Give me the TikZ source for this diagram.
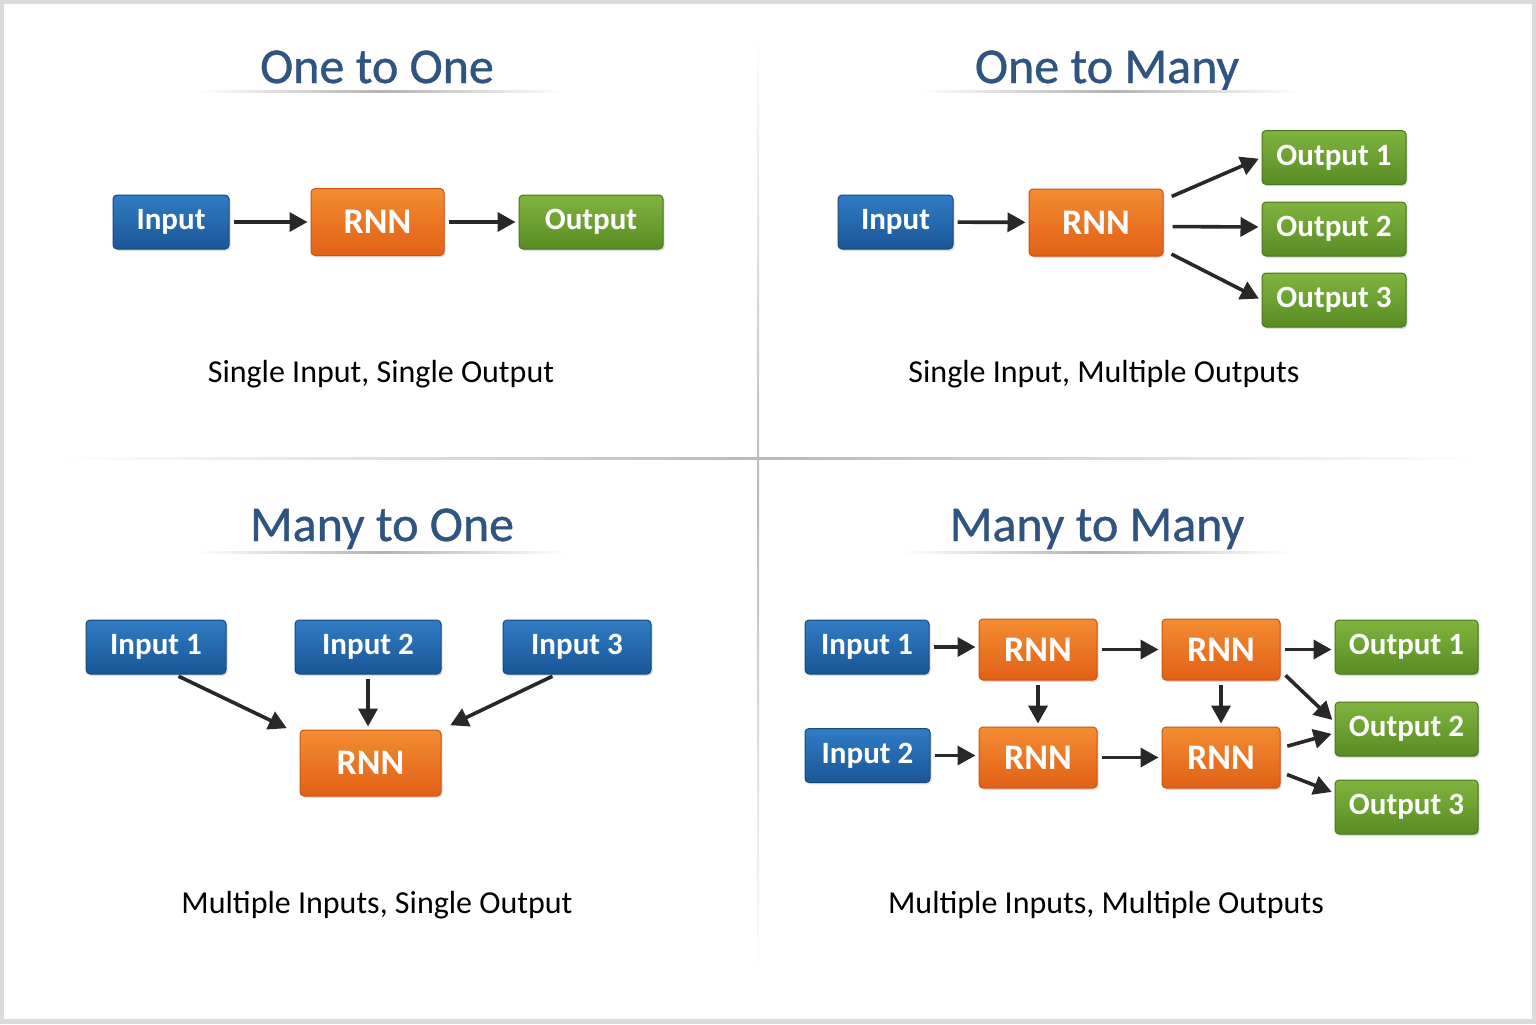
\documentclass[tikz,border=0pt]{standalone}
\usepackage{fontspec}
\setmainfont{Carlito}
\newfontfamily\headfont[FakeBold=0.8]{Carlito}
\usetikzlibrary{arrows.meta, positioning, calc, shadows}
\definecolor{titleblue}{RGB}{47,84,128}
\definecolor{intop}{RGB}{48,124,196}
\definecolor{inbot}{RGB}{26,86,150}
\definecolor{inedge}{RGB}{22,72,128}
\definecolor{rnntop}{RGB}{243,140,50}
\definecolor{rnnbot}{RGB}{226,96,22}
\definecolor{rnnedge}{RGB}{204,84,18}
\definecolor{outtop}{RGB}{128,180,62}
\definecolor{outbot}{RGB}{88,140,36}
\definecolor{outedge}{RGB}{72,118,28}
\definecolor{arrgray}{RGB}{40,40,40}

\begin{document}
\begin{tikzpicture}[x=0.5pt, y=-0.5pt,
    box/.style={rectangle, rounded corners=2pt, inner sep=0pt, text=white, line width=0.5pt,
        font=\fontsize{15.5}{18}\selectfont\bfseries,
        drop shadow={shadow xshift=0.8pt, shadow yshift=-0.9pt, opacity=0.25}},
    inbox/.style={box, top color=intop, bottom color=inbot, draw=inedge, minimum height=27pt},
    rnnbox/.style={box, top color=rnntop, bottom color=rnnbot, draw=rnnedge, font=\fontsize{18}{20}\selectfont\bfseries},
    outbox/.style={box, top color=outtop, bottom color=outbot, draw=outedge, minimum width=72pt, minimum height=27pt},
    arr/.style={-{Triangle[length=9pt, width=9.5pt]}, line width=1.8pt, draw=arrgray, shorten <=2pt, shorten >=1.5pt},
    heading/.style={anchor=base, text=titleblue, font=\headfont\fontsize{25}{30}\selectfont},
    caption/.style={anchor=base, font=\fontsize{16}{19}\selectfont},
]
\useasboundingbox (0,0) rectangle (1536,1024);
% frame and dividers
\fill[gray!28] (0,0) rectangle (1536,1024);
\fill[white] (4,4) rectangle (1532,1019);
\shade[top color=white, bottom color=white, middle color=gray!55] (757,35) rectangle (759,970);
\shade[left color=white, right color=white, middle color=gray!55] (60,457) rectangle (1480,459);

% titles
\node[heading] (ttlA) at (377,83) {One to One};
\node[heading] (ttlB) at (1107,83) {One to Many};
\node[heading] (ttlC) at (382,541) {Many to One};
\node[heading] (ttlD) at (1097,541) {Many to Many};
\shade[left color=white, right color=white, middle color=gray!60] (198,90) rectangle (565,92);
\shade[left color=white, right color=white, middle color=gray!60] (920,90) rectangle (1300,92);
\shade[left color=white, right color=white, middle color=gray!60] (195,551) rectangle (568,553);
\shade[left color=white, right color=white, middle color=gray!60] (900,551) rectangle (1292,553);

% one to one
\node[inbox, minimum width=58pt] (inA) at (171,222) {Input};
\node[rnnbox, minimum width=66.5pt, minimum height=33.5pt] (rnnA) at (377.5,222) {RNN};
\node[outbox] (outA) at (591,222) {Output};
\draw[arr] (inA) -- (rnnA);
\draw[arr] (rnnA) -- (outA);
\node[caption] (capA) at (381,382) {Single Input, Single Output};

% one to many
\node[inbox, minimum width=57.5pt] (inB) at (895.5,222) {Input};
\node[rnnbox, minimum width=67pt, minimum height=33.5pt] (rnnB) at (1096,222.5) {RNN};
\node[outbox] (outB1) at (1334,157.5) {Output 1};
\node[outbox] (outB2) at (1334,229) {Output 2};
\node[outbox] (outB3) at (1334,300) {Output 3};
\draw[arr] (inB) -- (rnnB);
\draw[arr, shorten <=4.5pt] ([yshift=11.25pt]rnnB.east) -- (outB1.west);
\draw[arr, shorten <=4.5pt] ([yshift=-2pt]rnnB.east) -- ([yshift=1pt]outB2.west);
\draw[arr, shorten <=4.5pt] ([yshift=-13.75pt]rnnB.east) -- (outB3.west);
\node[caption] (capB) at (1104,382) {Single Input, Multiple Outputs};

% many to one
\node[inbox, minimum width=70pt] (inC1) at (156,647) {Input 1};
\node[inbox, minimum width=73pt] (inC2) at (368,647) {Input 2};
\node[inbox, minimum width=74pt] (inC3) at (577,647) {Input 3};
\node[rnnbox, minimum width=70.5pt, minimum height=33pt] (rnnC) at (370.5,763) {RNN};
\draw[arr] ([xshift=9.5pt]inC1.south) -- ([xshift=-5pt]rnnC.north west);
\draw[arr] (inC2.south) -- (inC2.south |- rnnC.north);
\draw[arr] ([xshift=-10.5pt]inC3.south) -- ([xshift=3pt, yshift=1.5pt]rnnC.north east);
\node[caption] (capC) at (377,913) {Multiple Inputs, Single Output};

% many to many
\node[inbox, minimum width=62pt] (inD1) at (867,647) {Input 1};
\node[inbox, minimum width=62.5pt] (inD2) at (867.5,755.5) {Input 2};
\node[rnnbox, minimum width=59pt, minimum height=30.5pt] (rnnD11) at (1038,649.5) {RNN};
\node[rnnbox, minimum width=59pt, minimum height=30.5pt] (rnnD12) at (1221,649.5) {RNN};
\node[rnnbox, minimum width=59pt, minimum height=30.5pt] (rnnD21) at (1038,757.5) {RNN};
\node[rnnbox, minimum width=59pt, minimum height=30.5pt] (rnnD22) at (1221,757.5) {RNN};
\node[outbox, minimum width=71.5pt] (outD1) at (1406.5,647) {Output 1};
\node[outbox, minimum width=71.5pt] (outD2) at (1406.5,729) {Output 2};
\node[outbox, minimum width=71.5pt] (outD3) at (1406.5,807) {Output 3};
\draw[arr] (inD1.east) -- (inD1.east -| rnnD11.west);
\draw[arr] (inD2.east) -- (inD2.east -| rnnD21.west);
\draw[arr] (rnnD11) -- (rnnD12);
\draw[arr] (rnnD21) -- (rnnD22);
\draw[arr] (rnnD11) -- (rnnD21);
\draw[arr] (rnnD12) -- (rnnD22);
\draw[arr] (rnnD12.east) -- (rnnD12.east -| outD1.west);
\draw[arr, shorten <=3.5pt] ([yshift=5pt]rnnD12.south east) -- ([yshift=3.5pt]outD2.west);
\draw[arr, shorten <=3.5pt] ([yshift=4.75pt]rnnD22.east) -- ([yshift=-2pt]outD2.west);
\draw[arr, shorten <=3.5pt] ([yshift=-7.25pt]rnnD22.east) -- ([yshift=7pt]outD3.west);
\node[caption] (capD) at (1106,913) {Multiple Inputs, Multiple Outputs};
\end{tikzpicture}
\end{document}
